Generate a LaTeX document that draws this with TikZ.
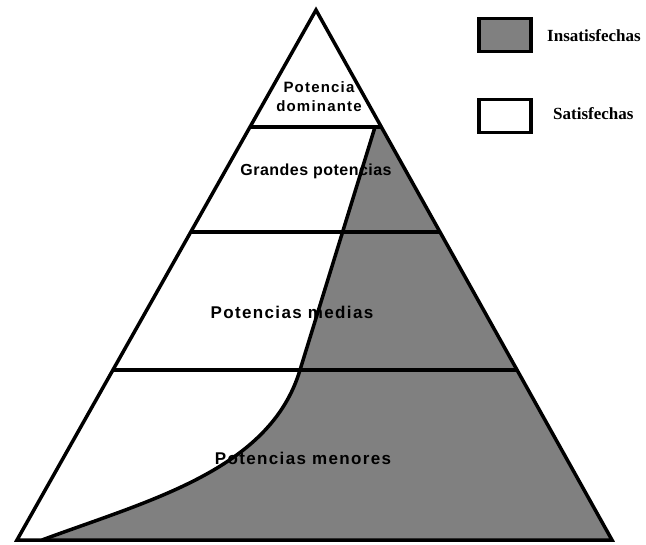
\documentclass[tikz,border=0pt]{standalone}
\usepackage{fontspec}
\setmainfont{Liberation Serif}
\newfontfamily\levelfont[LetterSpace=8]{Liberation Sans}
\newfontfamily\levelfonttight[LetterSpace=3]{Liberation Sans}
\usetikzlibrary{calc}
\begin{document}
\begin{tikzpicture}[x=1pt,y=-1pt]
		\tikzset{edge/.style = {line width=3.5pt, line join=miter},
			level/.style = {font=\levelfont\bfseries\fontsize{17}{20}\selectfont, align=center, inner sep=0pt},
			legendbox/.style = {draw, line width=3.5pt, minimum width=52pt, minimum height=33pt, inner sep=0pt},
			legendtext/.style = {font=\bfseries\fontsize{17}{19}\selectfont, anchor=west, inner sep=0pt}}

		\useasboundingbox (0,0) rectangle (646,545);

		\coordinate (Top) at (316,10);
		\coordinate (L) at (17,540);
		\coordinate (R) at (612,540);

		\coordinate (C_1) at (375,127);
		\coordinate (C_2) at (300,370);
		\coordinate (C_3) at (42,540);

		% insatisfechas
		\fill[gray] (C_1) -- ($(Top)!0.2208!(R)$) -- (R) -- (C_3) .. controls (150,500) and (270,470) .. (C_2) -- cycle;

		\draw[edge] (Top) -- (L) -- (R) -- cycle;
		\foreach \f in {0.2208,0.4189,0.6792}
			\draw[edge] ($(Top)!\f!(L)$) -- ($(Top)!\f!(R)$);
		\draw[edge] (C_1) -- (C_2) .. controls (270,470) and (150,500) .. (C_3);

		\node[level, font=\levelfont\bfseries\fontsize{15}{19}\selectfont] (dom) at (319,97) {Potencia\\dominante};
		\node[level, font=\levelfonttight\bfseries\fontsize{16}{19}\selectfont] (gran) at (316,171) {Grandes potencias};
		\node[level] (med) at (292,312) {Potencias medias};
		\node[level] (men) at (303,458) {Potencias menores};

		\node[legendbox, fill=gray] (ins_box) at (505,35) {};
		\node[legendbox, fill=white] (sat_box) at (505,116) {};
		\node[legendtext] (ins) at (547,36) {Insatisfechas};
		\node[legendtext] (sat) at (553,114) {Satisfechas};

	\end{tikzpicture}
\end{document}
